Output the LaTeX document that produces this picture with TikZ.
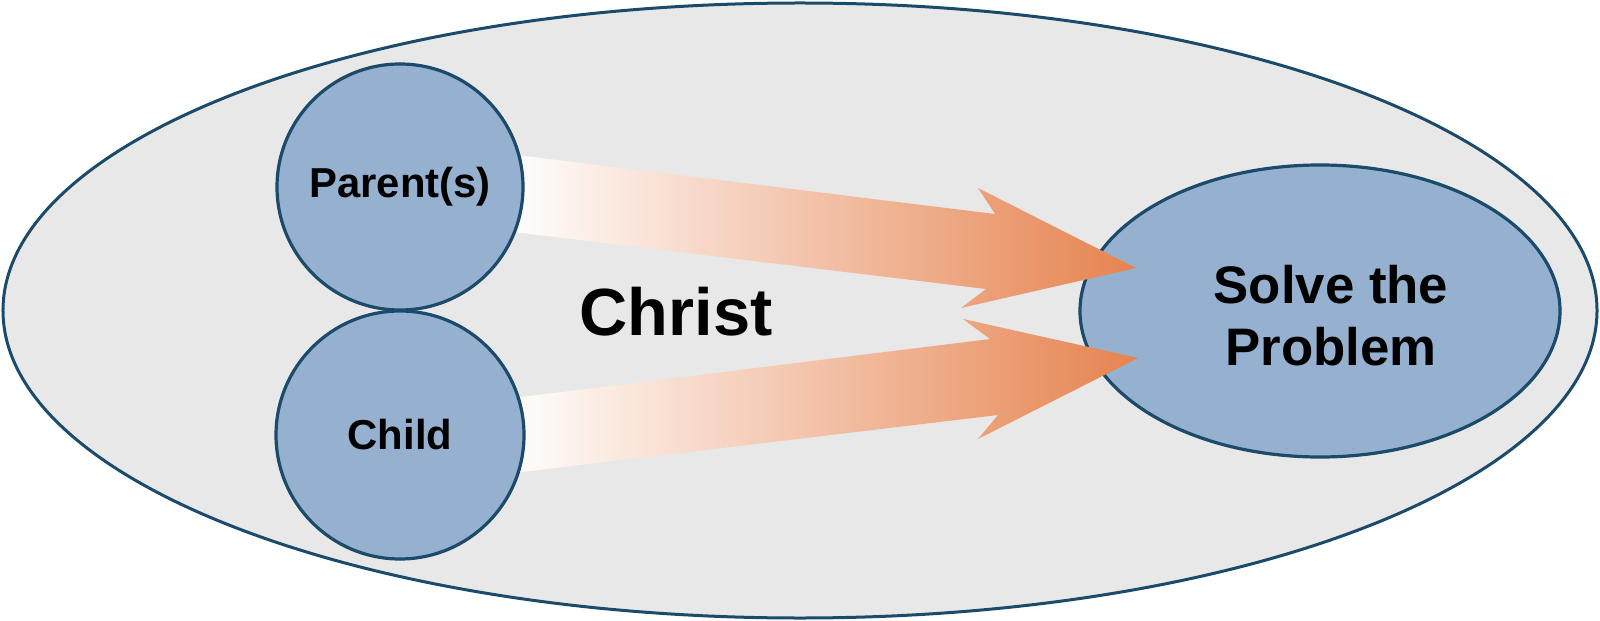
\documentclass[tikz,border=0pt]{standalone}
\usepackage{fontspec}
\setmainfont{Liberation Sans}
\usetikzlibrary{shapes.geometric}
\definecolor{bg}{HTML}{E8E8E8}
\definecolor{edge}{HTML}{1B4A6B}
\definecolor{fillblue}{HTML}{95B1CF}
\definecolor{orng}{HTML}{E6834F}
\begin{document}
\begin{tikzpicture}[x=1bp,y=-1bp,
  blob/.style={draw=edge,line width=3.2bp,fill=fillblue,inner sep=0pt},
  lbl/.style={font=\fontsize{42}{50}\selectfont\bfseries},
  flow/.style={left color=white,right color=orng}]
\useasboundingbox (0,0) rectangle (1600,621);
\node[ellipse, draw=edge, line width=3bp, fill=bg, minimum width=1594bp, minimum height=615bp, inner sep=0pt] (world) at (800,310.5) {};
\node[ellipse, blob, minimum width=480bp, minimum height=292bp] (solve) at (1320,311) {};
\node[align=center, font=\fontsize{53}{62}\selectfont\bfseries] (solvetext) at ([xshift=11bp,yshift=-5bp]solve.center) {Solve the\\Problem};
\shade[flow] (505,153.5) -- (995,214) -- (978,188) -- (1136,268) -- (961,308) -- (986,289) -- (505,231) -- cycle;
\shade[flow] (505,399) -- (990,339) -- (963,319) -- (1138,358) -- (978,439) -- (998,415) -- (505,474) -- cycle;
\node[circle, blob, lbl, minimum size=246bp] (parent) at (400,187) {Parent(s)};
\node[circle, blob, lbl, minimum size=248bp] (child) at (400,435) {Child};
\node[font=\fontsize{67}{80}\selectfont\bfseries] (christ) at (676,312) {Christ};
\end{tikzpicture}
\end{document}
